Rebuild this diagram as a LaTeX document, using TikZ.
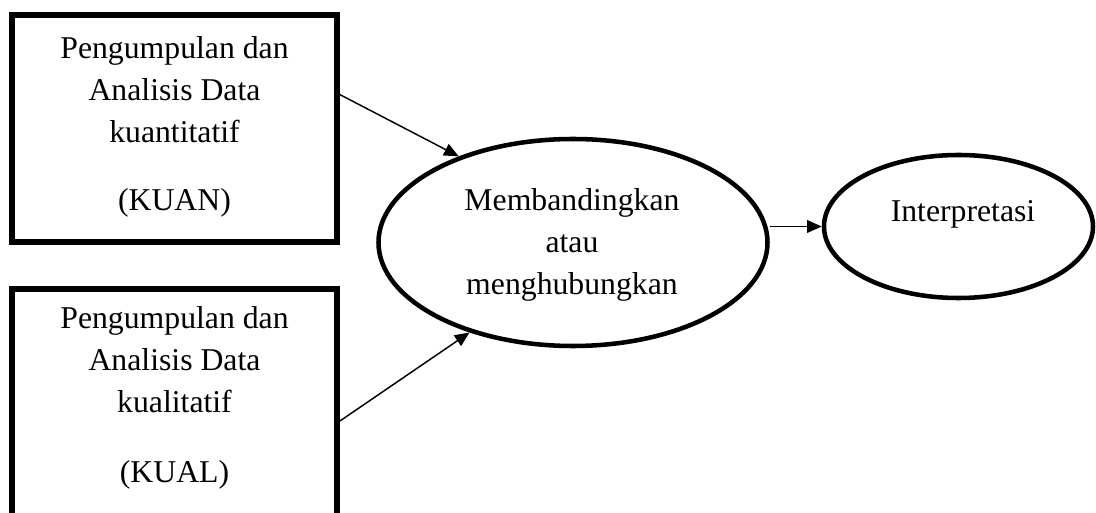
\documentclass[tikz,border=0pt]{standalone}
\usepackage{fontspec}
\setmainfont{Liberation Serif}
\usetikzlibrary{arrows.meta,shapes.geometric,calc}

\begin{document}
\begin{tikzpicture}[x=0.75pt,y=-0.75pt,
  databox/.style={draw,rectangle,line width=4pt,outer sep=0pt,inner sep=0pt,
    minimum width=243.75pt},
  oval/.style={draw,ellipse,line width=3.4pt,inner sep=0pt},
  txt/.style={align=center,inner sep=0pt,
    font=\fontsize{23.8pt}{31.5pt}\selectfont},
  flow/.style={line width=1.1pt,-{Triangle[length=11pt,width=9.5pt]}}]

  \useasboundingbox (0,0) rectangle (1096,513);
  \clip (0,0) rectangle (1096,513);

  % data collection boxes
  \node[databox,minimum height=170.25pt] (kuan) at (174.5,128.5) {};
  \node[databox,minimum height=187.5pt] (kual) at (174.5,414) {};
  \node[txt] (kuantxt) at (174.5,126.5)
    {Pengumpulan dan\\Analisis Data\\kuantitatif\\[19.5pt](KUAN)};
  \node[txt] (kualtxt) at (174.5,398)
    {Pengumpulan dan\\Analisis Data\\kualitatif\\[21.5pt](KUAL)};

  % comparison and interpretation
  \node[oval,minimum width=291.75pt,minimum height=155.25pt] (comp) at (573,242.5) {};
  \node[oval,minimum width=201.75pt,minimum height=107.25pt] (interp) at (958.5,226.5) {};
  \node[txt] (comptxt) at (572,245)
    {Membandingkan\\atau\\menghubungkan};
  \node[txt] (interptxt) at (963,214.7) {Interpretasi};

  % connectors
  \draw[flow] ($(kuan.north east)!0.344!(kuan.south east)$) -- (comp.143.4);
  \draw[flow] ($(kual.north east)!0.536!(kual.south east)$) -- (comp.221.9);
  \draw[flow] (comp.east |- interp.west) -- (interp.west);
\end{tikzpicture}
\end{document}
